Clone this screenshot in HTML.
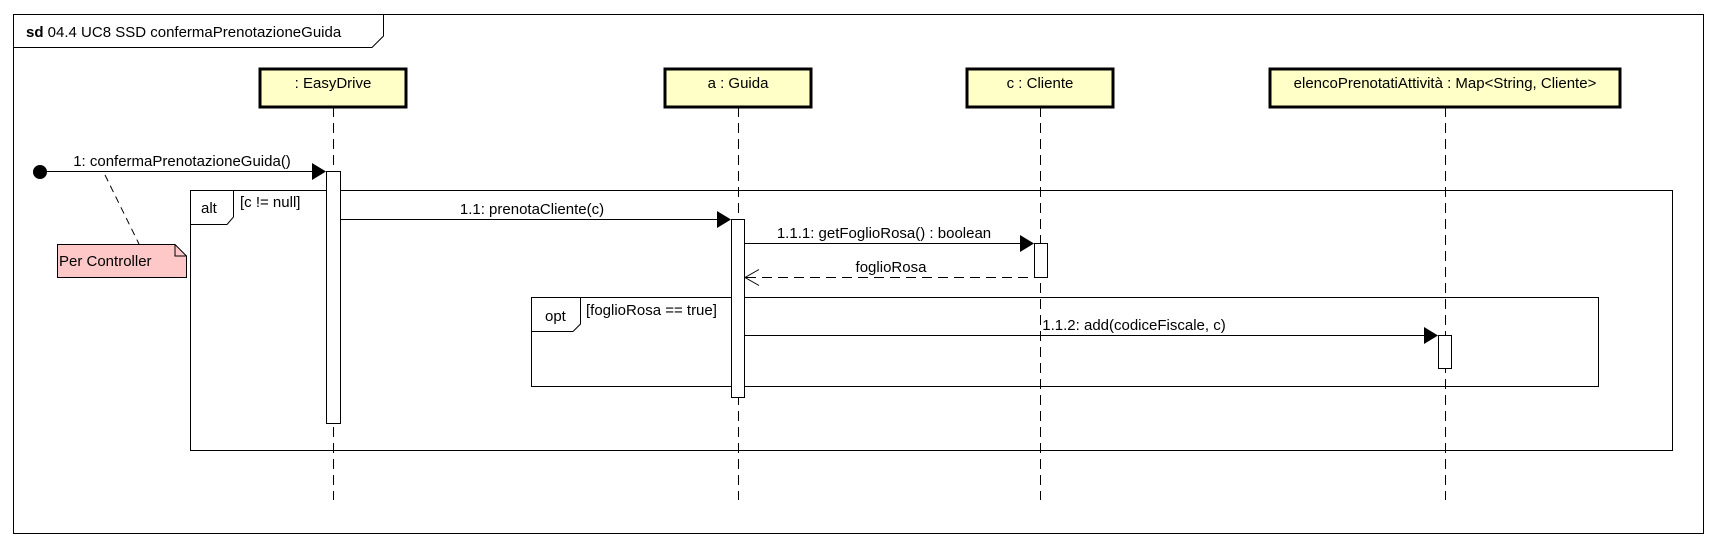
<!DOCTYPE html>
<html><head><meta charset="utf-8"><style>
html,body{margin:0;padding:0;background:#fff;}
svg{display:block;}
text{font-family:"Liberation Sans",sans-serif;font-size:15px;fill:#000;}
</style></head><body>
<svg width="1717" height="546" viewBox="0 0 1717 546" xmlns="http://www.w3.org/2000/svg">
<rect x="0" y="0" width="1717" height="546" fill="#fff"/>
<!-- frame -->
<rect x="13.5" y="14.5" width="1690" height="519" fill="none" stroke="#000" stroke-width="1"/>
<path d="M13.5 47.5 H372 L383.5 36 V14.5" fill="none" stroke="#000"/>
<text x="26" y="37"><tspan font-weight="bold">sd</tspan> 04.4 UC8 SSD confermaPrenotazioneGuida</text>

<!-- lifelines -->
<g stroke="#000" stroke-dasharray="10,6" stroke-width="1">
<line x1="333.5" y1="107" x2="333.5" y2="500"/>
<line x1="738.5" y1="107" x2="738.5" y2="500"/>
<line x1="1040.5" y1="107" x2="1040.5" y2="500"/>
<line x1="1445.5" y1="107" x2="1445.5" y2="500"/>
</g>

<!-- participant boxes -->
<g fill="#ffffc8" stroke="#000" stroke-width="3">
<rect x="260" y="69" width="146" height="38"/>
<rect x="665" y="69" width="146" height="38"/>
<rect x="967" y="69" width="146" height="38"/>
<rect x="1270" y="69" width="350" height="38"/>
</g>
<text x="333" y="88" text-anchor="middle">: EasyDrive</text>
<text x="738" y="88" text-anchor="middle">a : Guida</text>
<text x="1040" y="88" text-anchor="middle">c : Cliente</text>
<text x="1445" y="88" text-anchor="middle">elencoPrenotatiAttività : Map&lt;String, Cliente&gt;</text>

<!-- alt fragment -->
<rect x="190.5" y="190.5" width="1482" height="260" fill="none" stroke="#000"/>
<path d="M190.5 224.5 H227 L233.5 217 V190.5" fill="none" stroke="#000"/>
<text x="201" y="213">alt</text>
<text x="240" y="207">[c != null]</text>

<!-- opt fragment -->
<rect x="531.5" y="297.5" width="1067" height="89" fill="none" stroke="#000"/>
<path d="M531.5 331.5 H573 L580.5 324 V297.5" fill="none" stroke="#000"/>
<text x="545" y="321">opt</text>
<text x="586" y="315">[foglioRosa == true]</text>

<!-- activations -->
<g fill="#fff" stroke="#000">
<rect x="326.5" y="171.5" width="14" height="252"/>
<rect x="731.5" y="219.5" width="13" height="178"/>
<rect x="1034.5" y="243.5" width="13" height="34"/>
<rect x="1438.5" y="335.5" width="13" height="33"/>
</g>

<!-- message 1 -->
<circle cx="40" cy="172" r="7" fill="#000"/>
<line x1="40" y1="171.5" x2="312" y2="171.5" stroke="#000"/>
<polygon points="312,163 326,171.5 312,180" fill="#000"/>
<text x="182" y="166" text-anchor="middle">1: confermaPrenotazioneGuida()</text>

<!-- note -->
<path d="M105 175 L139 244" stroke="#000" stroke-dasharray="7,5" fill="none"/>
<path d="M57.5 244.5 H175 L186.5 256 V277.5 H57.5 Z" fill="#ffc8c8" stroke="#000"/>
<path d="M175 244.5 V256 H186.5" fill="none" stroke="#000"/>
<text x="59" y="266">Per Controller</text>

<!-- 1.1 -->
<line x1="341" y1="219.5" x2="717" y2="219.5" stroke="#000"/>
<polygon points="717,211 731,219.5 717,228" fill="#000"/>
<text x="532" y="214" text-anchor="middle">1.1: prenotaCliente(c)</text>

<!-- 1.1.1 -->
<line x1="745" y1="243.5" x2="1020" y2="243.5" stroke="#000"/>
<polygon points="1020,235 1034,243.5 1020,252" fill="#000"/>
<text x="884" y="238" text-anchor="middle">1.1.1: getFoglioRosa() : boolean</text>

<!-- return -->
<line x1="746" y1="277.5" x2="1034" y2="277.5" stroke="#000" stroke-dasharray="10,6"/>
<path d="M759 269.5 L745 277.5 L759 285.5" fill="none" stroke="#000"/>
<text x="891" y="272" text-anchor="middle">foglioRosa</text>

<!-- 1.1.2 -->
<line x1="745" y1="335.5" x2="1424" y2="335.5" stroke="#000"/>
<polygon points="1424,327 1438,335.5 1424,344" fill="#000"/>
<text x="1134" y="330" text-anchor="middle">1.1.2: add(codiceFiscale, c)</text>
</svg>
</body></html>
